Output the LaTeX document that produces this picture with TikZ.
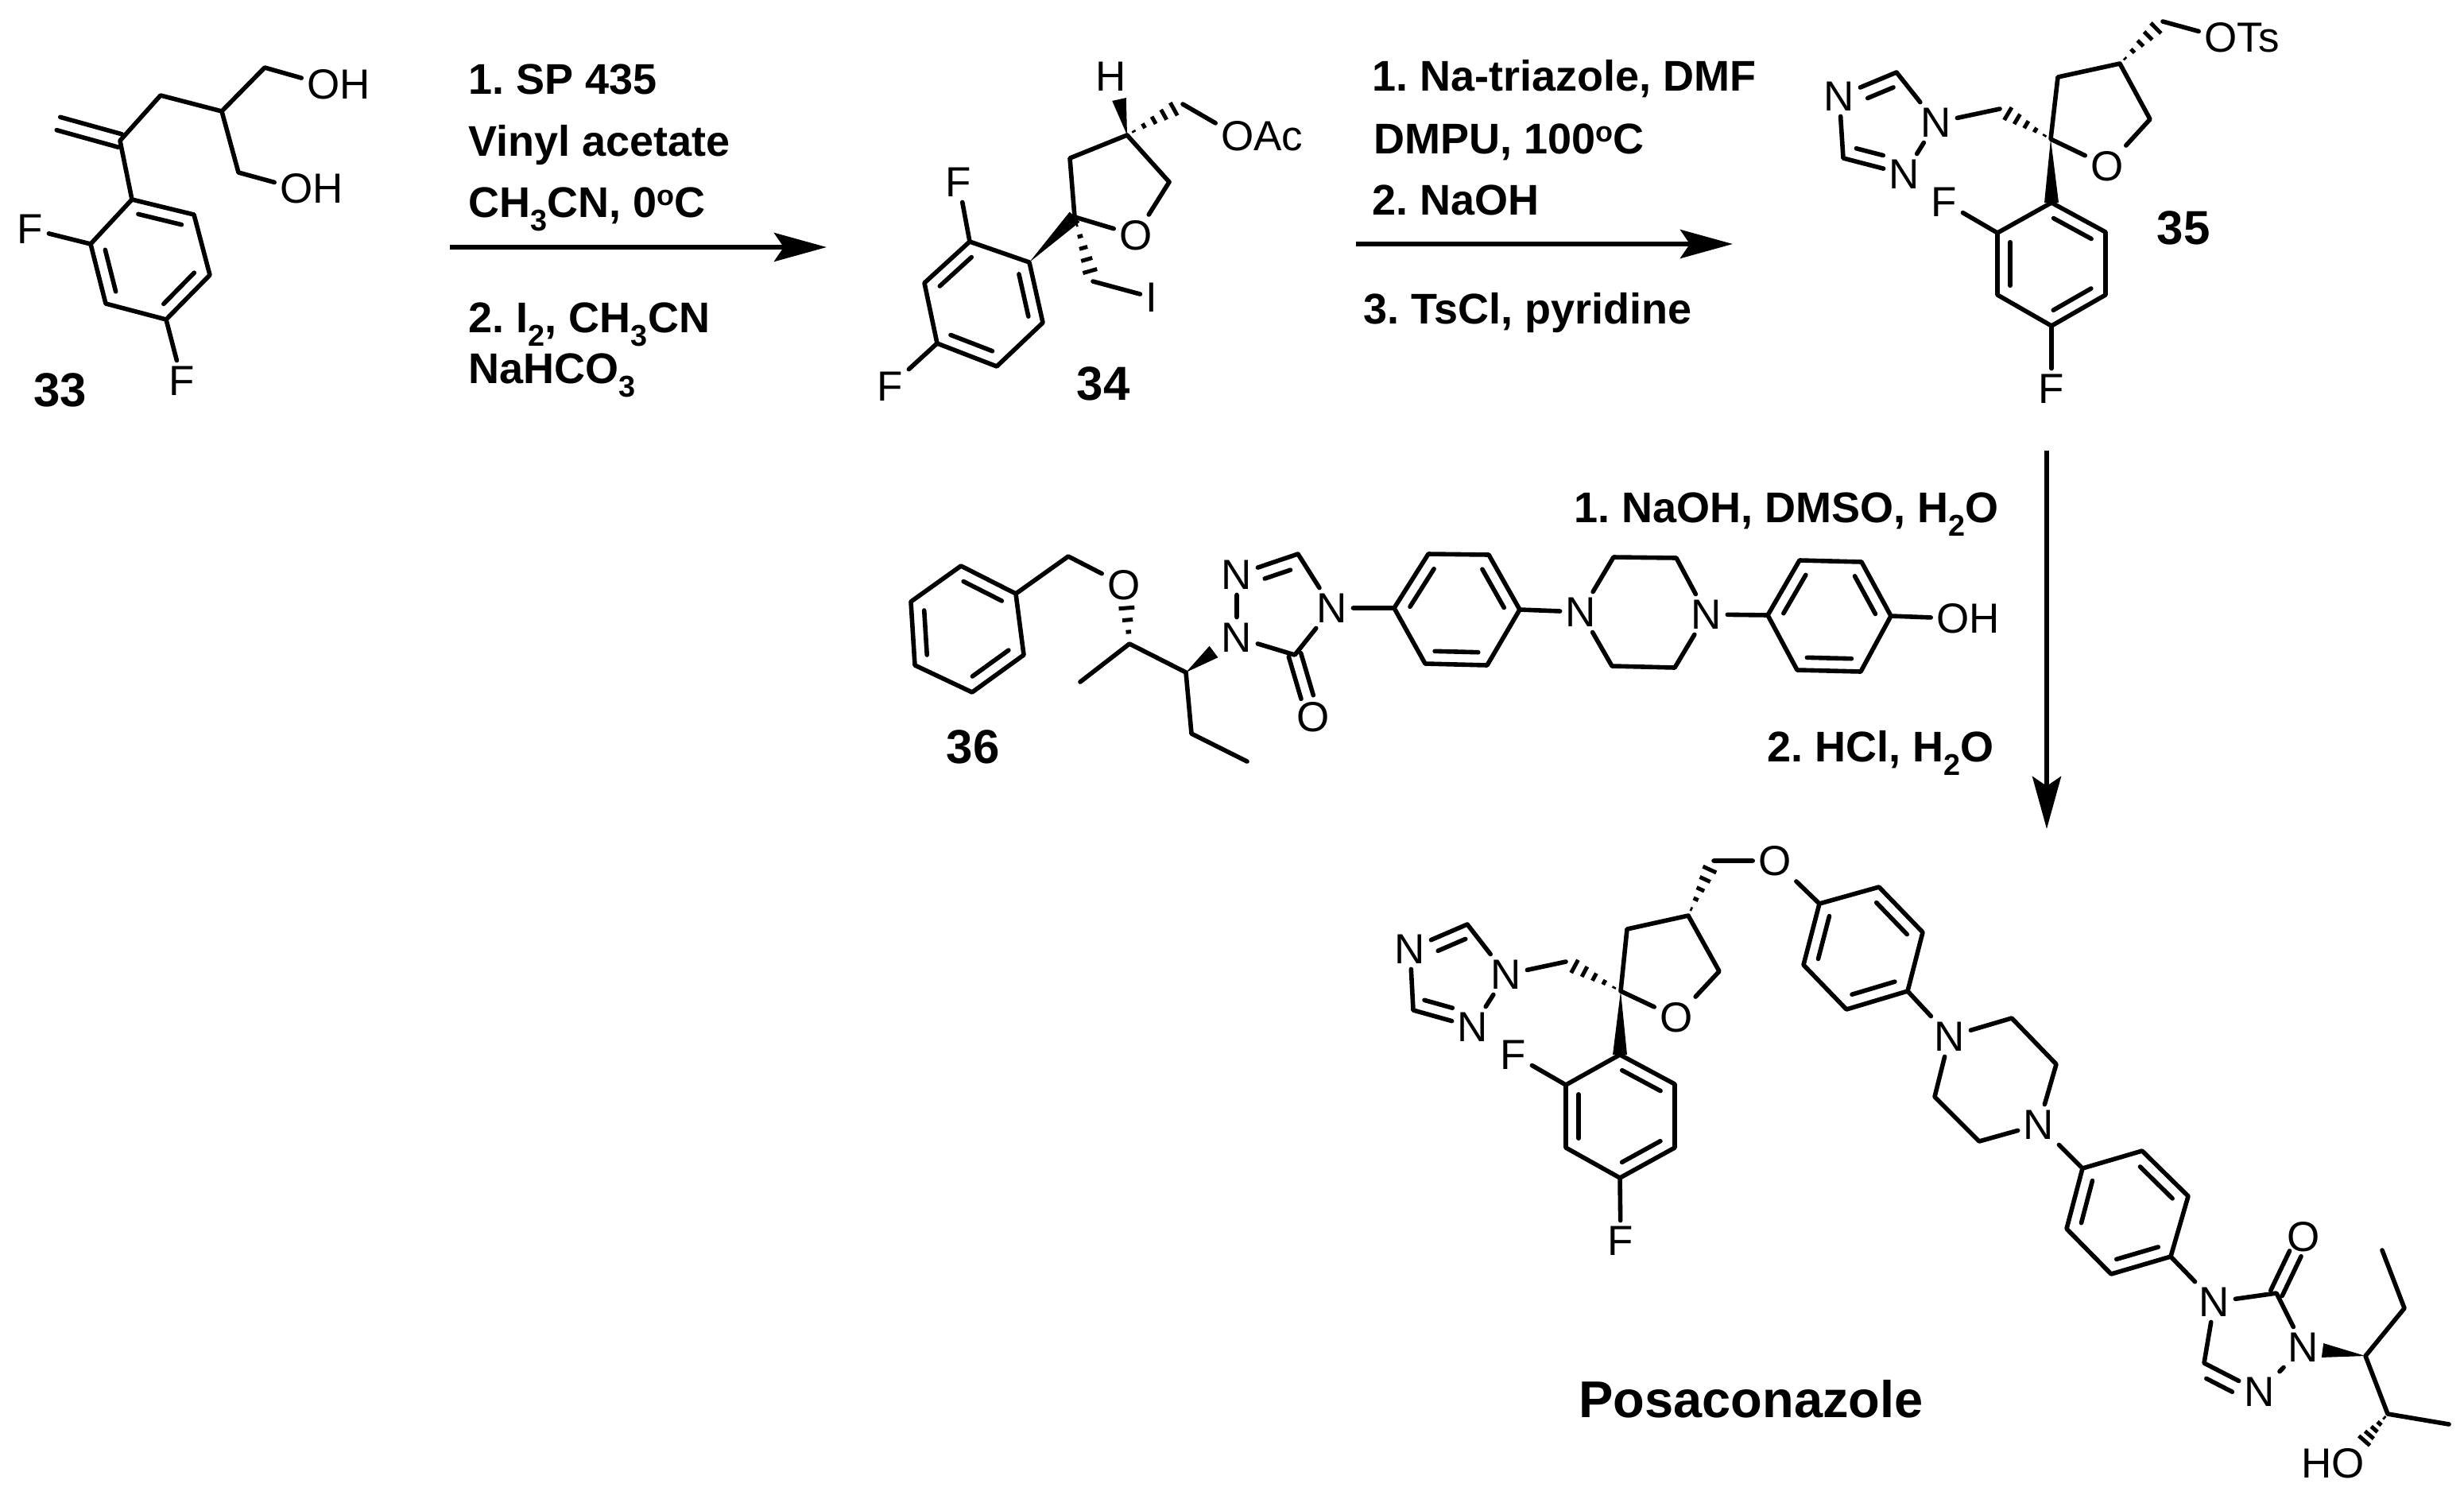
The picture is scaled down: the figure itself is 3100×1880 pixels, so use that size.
\documentclass[tikz,border=0pt]{standalone}
\usepackage{fontspec}
\setmainfont{Liberation Sans}
\usetikzlibrary{calc,arrows.meta}

\tikzset{
  atom/.style={inner sep=7pt, font=\fontsize{53}{60}\selectfont},
  reagent/.style={anchor=base west, inner sep=0pt, font=\fontsize{54}{60}\selectfont\bfseries\frenchspacing},
  reagentr/.style={reagent, anchor=base east},
  cmpd/.style={anchor=base, inner sep=0pt, font=\fontsize{60}{70}\selectfont\bfseries},
  bondline/.style={line width=5.6pt, line cap=round, line join=round},
  hashline/.style={line width=5pt},
  rxnarrow/.style={line width=6pt, -{Stealth[length=66pt,width=36pt,inset=12pt]}},
}

% single bond, narrow end of a wedge first, inner line of a double bond on the left of a->b
\newcommand{\bond}[2]{\draw[bondline] (#1) -- (#2)}
\newcommand{\wedgebond}[2]{\fill (#1) -- ($(#2)!9pt!90:(#1)$) -- ($(#2)!9pt!-90:(#1)$) -- cycle}
\newcommand{\hashbond}[3][.12,.3,.48,.66,.84]{\foreach \f in {#1}{\draw[hashline] ($(#2)!\f!(#3)!{\f*11pt}!90:(#3)$) -- ($(#2)!\f!(#3)!{\f*11pt}!-90:(#3)$);}}
\newcommand{\innerbond}[5][16pt]{\draw[bondline] ($(#2)!#4!(#3)!#1!90:(#3)$) -- ($(#3)!#5!(#2)!#1!-90:(#2)$)}
\newcommand{\arbond}[2]{\innerbond{#1}{#2}{.15}{.15}}
\newcommand{\supo}{\raisebox{15pt}{\fontsize{36}{40}\selectfont o}}

\begin{document}
\begin{tikzpicture}[x=1pt,y=-1pt]
\useasboundingbox (0,0) rectangle (3100,1880);

  % Compound 33
\coordinate (ex) at (73.5,155.5);
\coordinate (vin) at (151,177);
\coordinate (ch2) at (202,120);
\coordinate (ch) at (279,140);
\coordinate (cha) at (333,85);
\coordinate (chb) at (300,217);
\node[atom] (oha) at (407,106) {O\rlap{H}};
\node[atom] (ohb) at (373,237) {O\rlap{H}};
\coordinate (ra) at (166,251);
\coordinate (rb) at (244,270);
\coordinate (rc) at (264,346);
\coordinate (rd) at (209,402);
\coordinate (re) at (133,382);
\coordinate (rf) at (114,307);
\node[atom] (fa) at (38,288) {F};
\node[atom] (fb) at (229,479) {F};
\node[cmpd] (n33) at (76,511) {33};

\innerbond[8.5pt]{vin}{ex}{0}{0};
\innerbond[-8.5pt]{vin}{ex}{0}{0};
\draw[bondline] (ra) -- (vin) -- (ch2) -- (ch) -- (cha) -- (oha);
\draw[bondline] (ch) -- (chb) -- (ohb);
\draw[bondline] (ra) -- (rb) -- (rc) -- (rd) -- (re) -- (rf) -- cycle;
\bond {rf} {fa};
\bond {rd} {fb};
\arbond {rb} {ra};
\arbond {rd} {rc};
\arbond {rf} {re};

  % Compound 34
\coordinate (sc) at (1418,170);
\coordinate (sh) at (1408,125);
\node[atom] (hh) at (1398,96) {H};
\coordinate (sac) at (1488,131);
\node[atom] (oac) at (1557,171) {O\rlap{Ac}};
\coordinate (tb) at (1346,199);
\coordinate (tc) at (1352,273);
\node[atom] (to) at (1429,296) {O};
\coordinate (te) at (1471,229);
\coordinate (si) at (1375,354);
\node[atom] (ii) at (1449,374) {I};
\coordinate (ga) at (1295,330);
\coordinate (gb) at (1220,304);
\coordinate (gc) at (1163,356);
\coordinate (gd) at (1179,432);
\coordinate (ge) at (1254,461);
\coordinate (gf) at (1312,406);
\node[atom] (fc) at (1206,229) {F};
\node[atom] (fd) at (1120,486) {F};
\node[cmpd] (n34) at (1388,503) {34};

\wedgebond {sc} {sh};
\hashbond {sc} {sac};
\bond {sac} {oac};
\draw[bondline] (sc) -- (tb) -- (tc) -- (to) -- (te) -- (sc);
\wedgebond {ga} {tc};
\hashbond {tc} {si};
\bond {si} {ii};
\draw[bondline] (ga) -- (gb) -- (gc) -- (gd) -- (ge) -- (gf) -- cycle;
\bond {gb} {fc};
\bond {gd} {fd};
\arbond {gb} {gc};
\arbond {gd} {ge};
\arbond {gf} {ga};

  % Compound 35
\coordinate (uc) at (2667,80);
\coordinate (uch) at (2721,27);
\node[atom] (ots) at (2794,47) {O\rlap{Ts}};
\coordinate (ub) at (2589,97);
\coordinate (ua) at (2580,175);
\node[atom] (uo) at (2651,209) {O};
\coordinate (ue) at (2705,150);
\coordinate (ka) at (2581,255);
\coordinate (kb) at (2513,293);
\coordinate (kc) at (2513,371);
\coordinate (kd) at (2581,410);
\coordinate (ke) at (2649,371);
\coordinate (kf) at (2649,292);
\node[atom] (fe) at (2446,254) {F};
\node[atom] (ff) at (2581,489) {F};
\coordinate (uch2) at (2516,137);
\node[atom] (na) at (2436,154) {N};
\coordinate (tzc) at (2386,91);
\node[atom] (nb) at (2314,121) {N};
\coordinate (tzd) at (2319,199);
\node[atom] (nc) at (2396,219) {N};
\node[cmpd] (n35) at (2747,307) {35};

\hashbond {uc} {uch};
\bond {uch} {ots};
\draw[bondline] (uc) -- (ub) -- (ua) -- (uo) -- (ue) -- (uc);
\wedgebond {ua} {ka};
\draw[bondline] (ka) -- (kb) -- (kc) -- (kd) -- (ke) -- (kf) -- cycle;
\bond {kb} {fe};
\bond {kd} {ff};
\arbond {kf} {ka};
\arbond {kb} {kc};
\arbond {kd} {ke};
\hashbond {ua} {uch2};
\bond {uch2} {na};
\draw[bondline] (na) -- (tzc) -- (nb) -- (tzd) -- (nc) -- (na);
\innerbond {tzc} {nb} {.14} {.41};
\innerbond {tzd} {nc} {.16} {.4};

  % Compound 36
\coordinate (pa) at (1278,747);
\coordinate (pb) at (1209,712);
\coordinate (pc) at (1146,757);
\coordinate (pd) at (1151,837);
\coordinate (pe) at (1223,871);
\coordinate (pf) at (1288,824);
\coordinate (bn) at (1344,700);
\node[atom] (bo) at (1414,736) {O};
\coordinate (me) at (1421,810);
\coordinate (mh) at (1417,760);
\coordinate (mm) at (1359,858);
\coordinate (mb) at (1492,846);
\coordinate (mw) at (1527,820);
\coordinate (eta) at (1499,923);
\coordinate (etb) at (1569,958);
\node[atom] (za) at (1556,802) {N};
\node[atom] (zb) at (1556,723) {N};
\coordinate (zc) at (1633,697);
\node[atom] (zd) at (1676,765) {N};
\coordinate (ze) at (1629,824);
\node[atom] (zo) at (1652,902) {O};
\coordinate (aa) at (1754,765);
\coordinate (ab) at (1797,697);
\coordinate (ac) at (1873,698);
\coordinate (ad) at (1912,767);
\coordinate (ae) at (1871,837);
\coordinate (af) at (1793,835);
\node[atom] (pna) at (1989,770) {N};
\coordinate (pnb) at (2030,701);
\coordinate (pnc) at (2109,702);
\node[atom] (pnd) at (2147,773) {N};
\coordinate (pne) at (2107,840);
\coordinate (pnf) at (2028,838);
\coordinate (ba) at (2224,774);
\coordinate (bb) at (2264,705);
\coordinate (bc) at (2342,707);
\coordinate (bd) at (2379,775);
\coordinate (be) at (2341,845);
\coordinate (bf) at (2261,843);
\node[atom] (boh) at (2457,778) {O\rlap{H}};
\node[cmpd] (n36) at (1224,960) {36};

\draw[bondline] (pa) -- (pb) -- (pc) -- (pd) -- (pe) -- (pf) -- cycle;
\arbond {pa} {pb};
\arbond {pc} {pd};
\arbond {pe} {pf};
\draw[bondline] (pa) -- (bn) -- (bo);
\hashbond[.3,.6,.9] {me} {mh};
\draw[bondline] (mm) -- (me) -- (mb) -- (eta) -- (etb);
\wedgebond {mb} {mw};
\draw[bondline] (za) -- (zb) -- (zc) -- (zd) -- (ze) -- (za);
\innerbond {zc} {zb} {.19} {.39};
\innerbond[8pt] {ze} {zo} {0} {.32};
\innerbond[-8pt] {ze} {zo} {0} {.32};
\draw[bondline] (zd) -- (aa) -- (ab) -- (ac) -- (ad) -- (ae) -- (af) -- (aa);
\arbond {ab} {aa};
\arbond {ad} {ac};
\arbond {af} {ae};
\draw[bondline] (ad) -- (pna) -- (pnb) -- (pnc) -- (pnd) -- (pne) -- (pnf) -- (pna);
\draw[bondline] (pnd) -- (ba) -- (bb) -- (bc) -- (bd) -- (be) -- (bf) -- (ba);
\arbond {bb} {ba};
\arbond {bd} {bc};
\arbond {bf} {be};
\bond {bd} {boh};

  % Posaconazole
\node[atom] (qb) at (1774,1194) {N};
\coordinate (qc) at (1846,1163);
\node[atom] (qa) at (1895,1226) {N};
\node[atom] (qe) at (1853,1292) {N};
\coordinate (qd) at (1778,1271);
\coordinate (vch) at (1970,1210);
\coordinate (va) at (2039,1247);
\coordinate (vb) at (2047,1169);
\coordinate (vc) at (2124,1152);
\coordinate (ve) at (2163,1222);
\node[atom] (vo) at (2109,1280) {O};
\coordinate (wa) at (2038,1327);
\coordinate (wb) at (1970,1365);
\coordinate (wc) at (1970,1444);
\coordinate (wd) at (2038,1482);
\coordinate (we) at (2107,1444);
\coordinate (wf) at (2107,1364);
\node[atom] (fg) at (1904,1327) {F};
\node[atom] (fh) at (2039,1561) {F};
\coordinate (och) at (2156,1083);
\node[atom] (oo) at (2233,1083) {O};
\coordinate (da) at (2289,1137);
\coordinate (db) at (2364,1116);
\coordinate (dc) at (2419,1173);
\coordinate (dd) at (2400,1247);
\coordinate (de) at (2323,1270);
\coordinate (df) at (2269,1214);
\node[atom] (ppa) at (2453,1304) {N};
\coordinate (ppb) at (2531,1281);
\coordinate (ppc) at (2587,1339);
\node[atom] (ppd) at (2565,1415) {N};
\coordinate (ppe) at (2490,1436);
\coordinate (ppf) at (2434,1380);
\coordinate (ea) at (2620,1470);
\coordinate (eb) at (2695,1448);
\coordinate (ec) at (2753,1505);
\coordinate (ed) at (2731,1581);
\coordinate (ee) at (2656,1603);
\coordinate (ef) at (2600,1546);
\node[atom] (ya) at (2786,1638) {N};
\coordinate (yb) at (2864,1627);
\node[atom] (yo) at (2898,1556) {O};
\node[atom] (yc) at (2898,1695) {N};
\node[atom] (yd) at (2843,1751) {N};
\coordinate (ye) at (2773,1715);
\coordinate (sw) at (2922,1699);
\coordinate (sa) at (2976,1706);
\coordinate (sb) at (3025,1646);
\coordinate (sd) at (2997,1573);
\coordinate (se) at (3004,1779);
\coordinate (sf) at (3081,1792);
\coordinate (sg) at (2969,1819);
\node[atom] (sho) at (2954,1841) {\llap{H}O};
\node[cmpd, font=\fontsize{65}{70}\selectfont\bfseries] (npos) at (2203,1783) {Posaconazole};

\draw[bondline] (qa) -- (qc) -- (qb) -- (qd) -- (qe) -- (qa);
\innerbond {qc} {qb} {.12} {.4};
\innerbond {qd} {qe} {.13} {.4};
\bond {qa} {vch};
\hashbond {va} {vch};
\draw[bondline] (va) -- (vb) -- (vc) -- (ve) -- (vo) -- (va);
\wedgebond {va} {wa};
\draw[bondline] (wa) -- (wb) -- (wc) -- (wd) -- (we) -- (wf) -- cycle;
\bond {wb} {fg};
\bond {wd} {fh};
\arbond {wf} {wa};
\arbond {wb} {wc};
\arbond {wd} {we};
\hashbond {vc} {och};
\draw[bondline] (och) -- (oo) -- (da) -- (db) -- (dc) -- (dd) -- (de) -- (df) -- (da);
\arbond {da} {df};
\arbond {dc} {db};
\arbond {de} {dd};
\draw[bondline] (dd) -- (ppa) -- (ppb) -- (ppc) -- (ppd) -- (ppe) -- (ppf) -- (ppa);
\draw[bondline] (ppd) -- (ea) -- (eb) -- (ec) -- (ed) -- (ee) -- (ef) -- (ea);
\arbond {ea} {ef};
\arbond {ec} {eb};
\arbond {ee} {ed};
\draw[bondline] (ed) -- (ya) -- (yb) -- (yc) -- (yd) -- (ye) -- (ya);
\innerbond {yd} {ye} {.39} {.145};
\innerbond[8pt] {yb} {yo} {0} {.3};
\innerbond[-8pt] {yb} {yo} {0} {.3};
\wedgebond {sa} {sw};
\draw[bondline] (sd) -- (sb) -- (sa) -- (se) -- (sf);
\hashbond {se} {sg};

  % Reagents and arrows
\node[reagent] (ra1) at (589,118) {1. SP 435};
\node[reagent] (ra2) at (589,196) {Vinyl acetate};
\node[reagent] (ra3) at (589,273) {CH\textsubscript{3}CN, 0\supo C};
\node[reagent] (ra4) at (589,418) {2. I\textsubscript{2}, CH\textsubscript{3}CN};
\node[reagent] (ra5) at (589,482) {NaHCO\textsubscript{3}};
\node[reagent] (rb1) at (1726,114) {1. Na-triazole, DMF};
\node[reagent] (rb2) at (1728,193) {DMPU, 100\supo C};
\node[reagent] (rb3) at (1726,270) {2. NaOH};
\node[reagent] (rb4) at (1715,407) {3. TsCl, pyridine};
\node[reagentr] (rc1) at (2515,657) {1. NaOH, DMSO, H\textsubscript{2}O};
\node[reagentr] (rc2) at (2509,958) {2. HCl, H\textsubscript{2}O};

\coordinate (ara) at (566,311);
\coordinate (arb) at (1040,311);
\coordinate (arc) at (1706,307);
\coordinate (ard) at (2180,307);
\coordinate (are) at (2575,567);
\coordinate (arf) at (2575,1043);
\draw[rxnarrow] (ara) -- (arb);
\draw[rxnarrow] (arc) -- (ard);
\draw[rxnarrow] (are) -- (arf);

\end{tikzpicture}
\end{document}
